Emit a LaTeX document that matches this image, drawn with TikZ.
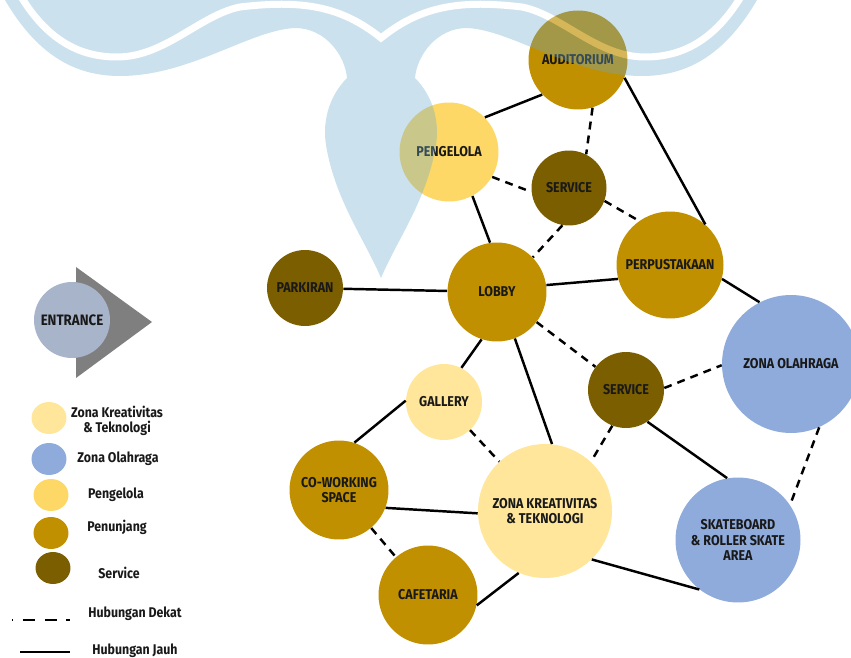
\documentclass[tikz,border=0pt]{standalone}
\usepackage{fontspec}
\setmainfont{Fira Sans}[FakeStretch=0.88]
\usetikzlibrary{positioning, calc, shapes.geometric}

\definecolor{Krea}{HTML}{FFE69A}
\definecolor{Olah}{HTML}{8FABDC}
\definecolor{Kelola}{HTML}{FDD866}
\definecolor{Tunjang}{HTML}{C09000}
\definecolor{Servis}{HTML}{7B5E00}
\definecolor{Masuk}{HTML}{A8B4CA}
\definecolor{Panah}{HTML}{7F7F7F}
\definecolor{Logo}{RGB}{109,169,206}

\tikzstyle{Room} = [circle, inner sep=0pt, align=center, text=black!90,
font=\bfseries\fontsize{8.1}{9}\selectfont]
\tikzstyle{Dot} = [ellipse, inner sep=0pt, minimum width=0.7cm, minimum height=0.64cm]
\tikzstyle{Key} = [align=center, text=black!90, font=\bfseries\fontsize{8}{8.8}\selectfont]
\tikzstyle{Jauh} = [line width=1.4pt]
\tikzstyle{Dekat} = [line width=1.4pt, dash pattern=on 4.5pt off 3.5pt]

\begin{document}
\begin{tikzpicture}[x=0.02cm, y=-0.02cm]
    \useasboundingbox (0,0) rectangle (851,658);

    % ruang
    \node[Room, fill=Tunjang, minimum size=1.98cm] (audit) at (578,60) {AUDITORIUM};
    \node[Room, fill=Kelola, minimum size=1.98cm] (kelola) at (449,152) {PENGELOLA};
    \node[Room, fill=Servis, minimum size=1.5cm] (serv1) at (569,188) {SERVICE};
    \node[Room, fill=Tunjang, minimum size=2.14cm] (perpus) at (670,265) {PERPUSTAKAAN};
    \node[Room, fill=Tunjang, minimum size=1.98cm] (lobby) at (497,292) {LOBBY};
    \node[Room, fill=Servis, minimum size=1.52cm] (parkir) at (305,288) {PARKIRAN};
    \node[Room, fill=Olah, minimum size=2.76cm] (olah) at (791,364) {ZONA OLAHRAGA};
    \node[Room, fill=Servis, minimum size=1.52cm] (serv2) at (626,390) {SERVICE};
    \node[Room, fill=Krea, minimum size=1.52cm] (gallery) at (444,402) {GALLERY};
    \node[Room, fill=Tunjang, minimum size=1.98cm] (cowork) at (339,490) {CO-WORKING\\SPACE};
    \node[Room, fill=Krea, minimum size=2.68cm] (krea) at (545,511) {ZONA KREATIVITAS\\\& TEKNOLOGI};
    \node[Room, fill=Tunjang, minimum size=1.98cm] (cafe) at (428,595) {CAFETARIA};
    \node[Room, fill=Olah, minimum size=2.5cm] (skate) at (738,540) {SKATEBOARD\\\& ROLLER SKATE\\AREA};

    % hubungan jauh
    \draw[Jauh] (kelola.44) -- (audit.224);
    \draw[Jauh] (audit.-21) -- (perpus.49);
    \draw[Jauh] (kelola.-62) -- (lobby.98);
    \draw[Jauh] (parkir) -- (lobby);
    \draw[Jauh] (lobby.8) -- (perpus.195);
    \draw[Jauh] (perpus.-15) -- (olah.117);
    \draw[Jauh] (lobby.-108) -- (gallery.63);
    \draw[Jauh] (lobby.-69) -- (krea.84);
    \draw[Jauh] (gallery.178) -- (cowork.72);
    \draw[Jauh] (cowork.-21) -- (krea.182);
    \draw[Jauh] (cafe.-12) -- (krea.247);
    \draw[Jauh] (krea.-46) -- (skate.232);
    \draw[Jauh] (serv2.-56) -- (skate.100);

    % hubungan dekat
    \draw[Dekat] (audit.-73) -- (serv1.63);
    \draw[Dekat] (kelola.-30) -- (serv1.186);
    \draw[Dekat] (serv1.-20) -- (perpus.125);
    \draw[Dekat] (serv1.-100) -- (lobby.44);
    \draw[Dekat] (lobby) -- (serv2);
    \draw[Dekat] (serv2.3) -- (olah.181);
    \draw[Dekat] (serv2.-111) -- (krea.47);
    \draw[Dekat] (gallery) -- (krea);
    \draw[Dekat] (cowork) -- (cafe);
    \draw[Dekat] (olah.-66) -- (skate.34);

    % entrance
    \fill[Panah] (76,267) -- (152,322) -- (76,378) -- cycle;
    \node[Room, fill=Masuk, minimum size=1.52cm, font=\bfseries\fontsize{8.6}{9}\selectfont] (masuk) at (72,320) {ENTRANCE};

    % legenda
    \node[Dot, fill=Krea] (k1) at (49,418) {};
    \node[Key] (t1) at (117,421) {Zona Kreativitas\\\& Teknologi};
    \node[Dot, fill=Olah] (k2) at (49,459) {};
    \node[Key] (t2) at (118,459) {Zona Olahraga};
    \node[Dot, fill=Kelola] (k3) at (51,495) {};
    \node[Key] (t3) at (116,495) {Pengelola};
    \node[Dot, fill=Tunjang] (k4) at (51,533) {};
    \node[Key] (t4) at (117,527) {Penunjang};
    \node[Dot, fill=Servis] (k5) at (53,568) {};
    \node[Key] (t5) at (119,573) {Service};
    \coordinate (d1) at (12,620);
    \coordinate (d2) at (70,620);
    \coordinate (j1) at (20,652);
    \coordinate (j2) at (70,652);
    \draw[line width=1.4pt, dash pattern=on 7pt off 5.5pt, dash phase=6.5pt] (d1) -- (d2);
    \draw[Jauh] (j1) -- (j2);
    \node[Key] (t6) at (135,614) {Hubungan Dekat};
    \node[Key] (t7) at (135,651) {Hubungan Jauh};

    % logo
    \begin{scope}[transparency group, opacity=0.35]
        \fill[Logo] (5,0) .. controls (40,60) and (80,76) .. (120,76)
            .. controls (190,76) and (250,30) .. (295,28)
            .. controls (325,28) and (345,55) .. (347,78)
            .. controls (330,95) and (322,120) .. (326,145)
            .. controls (335,200) and (365,240) .. (381,278)
            .. controls (397,240) and (427,200) .. (436,145)
            .. controls (440,120) and (432,95) .. (415,78)
            .. controls (417,55) and (437,28) .. (467,28)
            .. controls (512,30) and (572,76) .. (642,76)
            .. controls (682,76) and (722,60) .. (757,0) -- cycle;
        \draw[white, line width=0.14cm] (20,-5) .. controls (50,45) and (85,57) .. (117,57)
            .. controls (165,57) and (200,15) .. (240,7)
            .. controls (300,0) and (340,5) .. (381,38)
            .. controls (422,5) and (462,0) .. (522,7)
            .. controls (562,15) and (597,57) .. (645,57)
            .. controls (677,57) and (712,45) .. (742,-5);
    \end{scope}
\end{tikzpicture}
\end{document}
